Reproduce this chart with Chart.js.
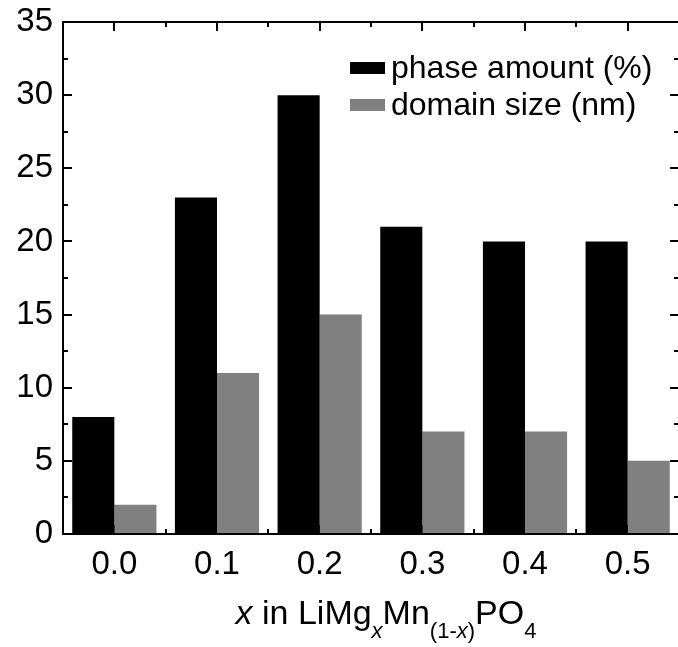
<!DOCTYPE html>
<html>
<head>
<meta charset="utf-8">
<script src="https://cdn.jsdelivr.net/npm/chart.js@4"></script>
<style>
  html, body { margin: 0; padding: 0; background: #fff; overflow: hidden; }
  #wrap { width: 680px; height: 647px; }
</style>
</head>
<body>
<div id="wrap"><canvas id="barChart" width="680" height="647"></canvas></div>
<script>
// Values
const categories = ['0.0', '0.1', '0.2', '0.3', '0.4', '0.5'];
const phaseAmount = [8, 23, 30, 21, 20, 20];
const domainSize = [2, 11, 15, 7, 7, 5];
const seriesNames = ['phase amount (%)', 'domain size (nm)'];
const yMin = 0;
const yMax = 35;
const yStep = 5;

const FONT = '"Liberation Sans", Arial, sans-serif';

// Inward ticks on all four sides (major + minor)
const innerTicks = {
    id: 'innerTicks',
    beforeDatasetsDraw(chart) {
        const ctx = chart.ctx;
        const { left, right, top, bottom } = chart.chartArea;
        const xs = chart.scales.x;
        const ys = chart.scales.y;
        ctx.save();
        ctx.strokeStyle = '#000';
        ctx.lineWidth = 2;
        ctx.beginPath();
        for (let v = yMin; v <= yMax; v += yStep / 2) {
            const py = Math.round(ys.getPixelForValue(v));
            const len = v % yStep === 0 ? 9 : 5;
            ctx.moveTo(left, py); ctx.lineTo(left + len, py);
            ctx.moveTo(right, py); ctx.lineTo(right - len, py);
        }
        for (let i = 0; i < categories.length; i++) {
            const px = Math.round(xs.getPixelForValue(i));
            ctx.moveTo(px, bottom); ctx.lineTo(px, bottom - 9);
            ctx.moveTo(px, top); ctx.lineTo(px, top + 9);
            if (i < categories.length - 1) {
                const mid = Math.round((xs.getPixelForValue(i) + xs.getPixelForValue(i + 1)) / 2);
                ctx.moveTo(mid, bottom); ctx.lineTo(mid, bottom - 5);
                ctx.moveTo(mid, top); ctx.lineTo(mid, top + 5);
            }
        }
        ctx.stroke();
        ctx.restore();
    }
};

// Frame, legend inside the plot, and the axis title with subscripts
const decorations = {
    id: 'decorations',
    afterDatasetsDraw(chart) {
        const ctx = chart.ctx;
        const { left, right, top, bottom } = chart.chartArea;
        ctx.save();
        ctx.strokeStyle = '#000';
        ctx.lineWidth = 2;
        ctx.strokeRect(left, top, right - left, bottom - top);
        ctx.restore();
    },
    afterDraw(chart) {
        const ctx = chart.ctx;
        const { left, right } = chart.chartArea;
        ctx.save();

        // legend
        ctx.textBaseline = 'middle';
        ctx.textAlign = 'left';
        ctx.font = '32px ' + FONT;
        chart.data.datasets.forEach((ds, i) => {
            const y = 68 + i * 37;
            ctx.fillStyle = ds.backgroundColor;
            ctx.fillRect(350, y - 6, 35, 12);
            ctx.fillStyle = '#000';
            ctx.fillText(ds.label, 391, y + 1);
        });

        // axis title: x in LiMg_x Mn_(1-x) PO_4
        const parts = [
            { t: 'x', f: 'italic 34px ' + FONT, sub: false },
            { t: ' in LiMg', f: '34px ' + FONT, sub: false },
            { t: 'x', f: 'italic 22px ' + FONT, sub: true },
            { t: 'Mn', f: '34px ' + FONT, sub: false },
            { t: '(1-', f: '22px ' + FONT, sub: true },
            { t: 'x', f: 'italic 22px ' + FONT, sub: true },
            { t: ')', f: '22px ' + FONT, sub: true },
            { t: 'PO', f: '34px ' + FONT, sub: false },
            { t: '4', f: '22px ' + FONT, sub: true }
        ];
        ctx.textBaseline = 'alphabetic';
        let total = 0;
        parts.forEach(p => { ctx.font = p.f; p.w = ctx.measureText(p.t).width; total += p.w; });
        let x = (left + right) / 2 + 15 - total / 2;
        ctx.fillStyle = '#000';
        parts.forEach(p => {
            ctx.font = p.f;
            ctx.fillText(p.t, x, p.sub ? 638 : 624);
            x += p.w;
        });
        ctx.restore();
    }
};

const ctx = document.getElementById('barChart').getContext('2d');
new Chart(ctx, {
    type: 'bar',
    data: {
        labels: categories,
        datasets: [
            {
                label: seriesNames[0],
                data: phaseAmount,
                backgroundColor: '#000000',
                borderWidth: 0
            },
            {
                label: seriesNames[1],
                data: domainSize,
                backgroundColor: '#808080',
                borderWidth: 0
            }
        ]
    },
    options: {
        responsive: false,
        animation: false,
        devicePixelRatio: 1,
        layout: { padding: { top: 22, right: 1, left: 0, bottom: 0 } },
        datasets: {
            bar: { categoryPercentage: 0.82, barPercentage: 1.0 }
        },
        plugins: {
            legend: { display: false },
            tooltip: { enabled: false }
        },
        scales: {
            x: {
                grid: { display: false, drawTicks: false },
                border: { display: false },
                ticks: {
                    color: '#000',
                    padding: 11,
                    maxRotation: 0,
                    font: { family: FONT, size: 33 }
                },
                afterFit(scale) {
                    scale.height = 113;
                    scale.paddingLeft = 0;
                    scale.paddingRight = 0;
                }
            },
            y: {
                min: yMin,
                max: yMax,
                grid: { display: false, drawTicks: false },
                border: { display: false },
                ticks: {
                    stepSize: yStep,
                    color: '#000',
                    padding: 10,
                    font: { family: FONT, size: 33 }
                },
                afterFit(scale) {
                    scale.width = 63;
                    scale.paddingTop = 0;
                    scale.paddingBottom = 0;
                }
            }
        }
    },
    plugins: [innerTicks, decorations]
});
</script>
</body>
</html>
